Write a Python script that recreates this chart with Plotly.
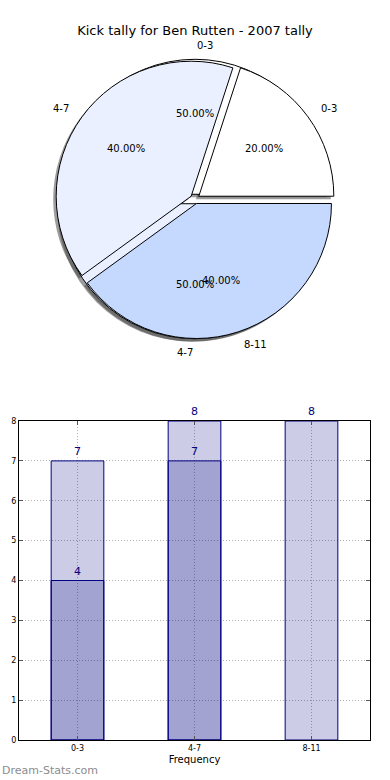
import numpy as np
import plotly.graph_objects as go

# ---------------- data ----------------
title_text = "Kick tally for Ben Rutten - 2007 tally"

pie_labels = ["0-3", "4-7", "8-11"]
pie_values = [20, 40, 40]
pie_colors = ["#FFFFFF", "#EAF0FF", "#C5D9FF"]

pie2_labels = ["0-3", "4-7"]
pie2_values = [50, 50]
pie2_colors = ["#FFFFFF", "#EAF0FF"]

bar_categories = ["0-3", "4-7", "8-11"]
bar_series_a = [7, 8, 8]
bar_series_b_categories = ["0-3", "4-7"]
bar_series_b = [4, 7]
y_ticks = [0, 1, 2, 3, 4, 5, 6, 7, 8]

# ---------------- layout constants ----------------
W, H = 390, 780
FONT = "DejaVu Sans"
CX, CY = 195, 199      # pie centre in px
R = 135                # pie radius in px
PULL = 0.035
SHADOW = 3             # px offset of shadow

half = R * (1 + PULL)


def dom(dx=0, dy=0):
    return dict(
        x=[(CX - half + dx) / W, (CX + half + dx) / W],
        y=[1 - (CY + half + dy) / H, 1 - (CY - half + dy) / H],
    )


def first_rotation(values):
    # start the first slice at 3 o'clock and go counter-clockwise
    v = np.array(values, dtype=float)
    return 90 - v[0] / v.sum() * 360


fig = go.Figure()

common = dict(sort=False, direction="counterclockwise",
              textinfo="none", hoverinfo="skip", showlegend=False)

# shadows
for vals in (pie2_values, pie_values):
    fig.add_trace(go.Pie(values=vals, labels=[str(i) for i in range(len(vals))],
                         pull=PULL, domain=dom(-SHADOW, SHADOW),
                         rotation=first_rotation(vals),
                         marker=dict(colors=["rgba(60,60,60,0.5)"] * len(vals),
                                     line=dict(width=0)),
                         **common))

# second pie (underneath)
fig.add_trace(go.Pie(values=pie2_values, labels=pie2_labels, pull=PULL,
                     rotation=first_rotation(pie2_values),
                     domain=dom(), marker=dict(colors=pie2_colors,
                                               line=dict(color="black", width=1)),
                     **common))
# main pie
fig.add_trace(go.Pie(values=pie_values, labels=pie_labels, pull=PULL,
                     rotation=first_rotation(pie_values),
                     domain=dom(), marker=dict(colors=pie_colors,
                                               line=dict(color="black", width=1)),
                     **common))

annotations = []


def pie_texts(values, labels):
    v = np.array(values, dtype=float)
    frac = v / v.sum()
    start = np.concatenate([[0], np.cumsum(frac)[:-1]])
    mid = (start + frac / 2) * 2 * np.pi
    for lab, f, th in zip(labels, frac, mid):
        c, s = np.cos(th), np.sin(th)
        d = (1.1 + PULL) * R
        annotations.append(dict(
            x=(CX + d * c) / W, y=1 - (CY - d * s) / H, xref="paper", yref="paper",
            text=lab, showarrow=False, xanchor="left" if c > 0 else "right",
            yanchor="middle", font=dict(family=FONT, size=10, color="black")))
        d = (0.6 + PULL) * R
        annotations.append(dict(
            x=(CX + d * c) / W, y=1 - (CY - d * s) / H, xref="paper", yref="paper",
            text="%.2f%%" % (f * 100), showarrow=False, xanchor="center",
            yanchor="middle", font=dict(family=FONT, size=10, color="black")))


pie_texts(pie2_values, pie2_labels)
pie_texts(pie_values, pie_labels)

# ---------------- bars ----------------
bar_fill = "rgba(0,0,128,0.2)"
fig.add_trace(go.Bar(x=bar_categories, y=bar_series_a, width=0.45,
                     marker=dict(color=bar_fill, line=dict(color="#000080", width=1)),
                     text=bar_series_a, textposition="outside", cliponaxis=False,
                     textfont=dict(family=FONT, size=11, color="#000080"),
                     hoverinfo="skip", showlegend=False))
fig.add_trace(go.Bar(x=bar_series_b_categories, y=bar_series_b, width=0.45,
                     marker=dict(color=bar_fill, line=dict(color="#000080", width=1)),
                     text=bar_series_b, textposition="outside", cliponaxis=False,
                     textfont=dict(family=FONT, size=11, color="#000080"),
                     hoverinfo="skip", showlegend=False))

annotations.append(dict(x=0, y=1 - 770 / H, xref="paper", yref="paper",
                        text="Dream-Stats.com", showarrow=False, xanchor="left",
                        yanchor="middle",
                        font=dict(family=FONT, size=11, color="#8c8c8c")))

axis_common = dict(showline=True, linecolor="black", linewidth=1, mirror="ticks",
                   ticks="inside", ticklen=4, tickcolor="#555",
                   showgrid=True, gridcolor="#b0b0b0", gridwidth=1,
                   griddash="1px,2px", zeroline=False, automargin=False,
                   tickfont=dict(family=FONT, size=8, color="black"))

fig.update_layout(
    width=W, height=H, autosize=False,
    margin=dict(l=0, r=0, t=0, b=0, autoexpand=False),
    paper_bgcolor="white", plot_bgcolor="white",
    barmode="overlay",
    title=dict(text=title_text, x=0.5, xanchor="center", y=1 - 30 / H,
               yanchor="middle", font=dict(family=FONT, size=13, color="black")),
    xaxis=dict(domain=[19 / W, 370 / W], type="category",
               categoryorder="array", categoryarray=bar_categories,
               range=[-0.5, 2.5],
               title=dict(text="Frequency", standoff=4,
                          font=dict(family=FONT, size=10, color="black")),
               **axis_common),
    yaxis=dict(domain=[1 - 740 / H, 1 - 421 / H], range=[0, 8],
               tickvals=y_ticks, **axis_common),
    annotations=annotations,
    font=dict(family=FONT),
)

fig.write_html("out.html",
               config={"displayModeBar": False},
               post_script="document.body.style.margin='0';"
                           "document.body.style.overflow='hidden';")
